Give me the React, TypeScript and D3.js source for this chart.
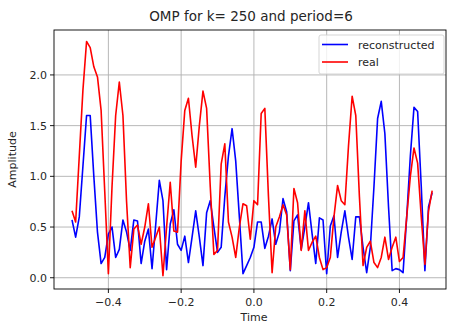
import React from "react";
import * as d3 from "d3";

const times: number[] = Array.from({ length: 100 }, (_, i) => +(-0.5 + i * 0.01).toFixed(2));

const reconstructed: number[] = [
  0.57, 0.4, 0.6, 1.1, 1.6, 1.6, 1.0, 0.45, 0.14, 0.2,
  0.43, 0.5, 0.2, 0.28, 0.57, 0.45, 0.27, 0.57, 0.56, 0.14,
  0.36, 0.48, 0.09, 0.52, 0.96, 0.76, 0.08, 0.53, 0.67, 0.33,
  0.27, 0.41, 0.15, 0.4, 0.66, 0.4, 0.12, 0.64, 0.76, 0.5,
  0.25, 0.3, 0.8, 1.2, 1.47, 1.15, 0.6, 0.04, 0.12, 0.2,
  0.3, 0.55, 0.55, 0.29, 0.41, 0.58, 0.33, 0.45, 0.78, 0.65,
  0.07, 0.56, 0.62, 0.28, 0.5, 0.74, 0.43, 0.14, 0.59, 0.57,
  0.04, 0.51, 0.61, 0.2, 0.45, 0.66, 0.4, 0.18, 0.6, 0.6,
  0.3, 0.05, 0.3, 0.9, 1.57, 1.74, 1.42, 0.7, 0.07, 0.09,
  0.08, 0.05, 0.6, 1.2, 1.68, 1.64, 0.9, 0.07, 0.7, 0.84,
];

const real: number[] = [
  0.66, 0.55, 1.2, 1.85, 2.33, 2.27, 2.08, 1.98, 1.65, 0.85,
  0.04, 0.9, 1.6, 1.93, 1.6, 0.75, 0.1, 0.48, 0.52, 0.33,
  0.5, 0.73, 0.3, 0.4, 0.5, 0.02, 0.5, 0.94, 0.46, 0.45,
  1.15, 1.65, 1.77, 1.4, 1.09, 1.5, 1.84, 1.67, 0.9, 0.23,
  0.27, 1.12, 1.32, 0.55, 0.4, 0.2, 0.5, 0.73, 0.71, 0.38,
  0.76, 0.72, 1.62, 1.67, 0.8, 0.05, 0.5, 0.6, 0.72, 0.62,
  0.08, 0.88, 0.74, 0.27, 0.66, 0.27, 0.35, 0.41, 0.2, 0.08,
  0.1, 0.2, 0.6, 0.91, 0.76, 0.72, 1.3, 1.79, 1.6, 0.8,
  0.12, 0.3, 0.36, 0.15, 0.1, 0.2, 0.4, 0.18, 0.3, 0.4,
  0.16, 0.2, 0.6, 1.0, 1.28, 1.13, 0.6, 0.13, 0.66, 0.86,
];

const xTicks: number[] = [-0.4, -0.2, 0.0, 0.2, 0.4];
const yTicks: number[] = [0.0, 0.5, 1.0, 1.5, 2.0];

const W = 449;
const H = 326;
const left = 54;
const right = 446;
const top = 30;
const bottom = 289;

export default function App() {
  const x = d3.scaleLinear().domain([-0.5495, 0.5280]).range([left, right]);
  const y = d3.scaleLinear().domain([-0.111, 2.443]).range([bottom, top]);
  const line = d3
    .line<number>()
    .x((_, i) => x(times[i]))
    .y((d) => y(d));
  const font = "DejaVu Sans, sans-serif";
  const grid = "#b0b0b0";
  const txt = "#262626";
  return (
    <svg
      width={W}
      height={H}
      style={{ position: "absolute", left: 0, top: 0, background: "#fff" }}
      fontFamily={font}
    >
      <rect x={0} y={0} width={W} height={H} fill="#fff" />
      {xTicks.map((t) => (
        <line key={"gx" + t} x1={x(t)} x2={x(t)} y1={top} y2={bottom} stroke={grid} strokeWidth={0.9} />
      ))}
      {yTicks.map((t) => (
        <line key={"gy" + t} x1={left} x2={right} y1={y(t)} y2={y(t)} stroke={grid} strokeWidth={0.9} />
      ))}
      <path d={line(reconstructed) || ""} fill="none" stroke="#0000ff" strokeWidth={1.6} strokeLinejoin="round" />
      <path d={line(real) || ""} fill="none" stroke="#ff0000" strokeWidth={1.6} strokeLinejoin="round" />
      <rect x={left} y={top} width={right - left} height={bottom - top} fill="none" stroke="#000" strokeWidth={0.9} />
      {xTicks.map((t) => (
        <g key={"tx" + t}>
          <line x1={x(t)} x2={x(t)} y1={bottom} y2={bottom + 4} stroke="#000" strokeWidth={0.9} />
          <text x={x(t)} y={bottom + 17} textAnchor="middle" fontSize={11} fill={txt}>
            {t === 0 ? "0.0" : d3.format(".1f")(t).replace("-", "\u2212")}
          </text>
        </g>
      ))}
      {yTicks.map((t) => (
        <g key={"ty" + t}>
          <line x1={left - 4} x2={left} y1={y(t)} y2={y(t)} stroke="#000" strokeWidth={0.9} />
          <text x={left - 7} y={y(t) + 4} textAnchor="end" fontSize={11} fill={txt}>
            {d3.format(".1f")(t)}
          </text>
        </g>
      ))}
      <text x={254} y={321} textAnchor="middle" fontSize={11} fill={txt}>Time</text>
      <text transform={`translate(16,${(top + bottom) / 2}) rotate(-90)`} textAnchor="middle" fontSize={11} fill={txt}>
        Amplitude
      </text>
      <text x={251} y={20.5} textAnchor="middle" fontSize={13.5} fill={txt}>
        OMP for k= 250 and period=6
      </text>
      <g>
        <rect x={319} y={35} width={125} height={39} rx={2} fill="#fff" fillOpacity={0.8} stroke="#d0d0d0" strokeWidth={0.9} />
        <line x1={322} x2={348} y1={44.5} y2={44.5} stroke="#0000ff" strokeWidth={1.6} />
        <text x={358} y={48.5} fontSize={11} fill={txt}>reconstructed</text>
        <line x1={322} x2={348} y1={62} y2={62} stroke="#ff0000" strokeWidth={1.6} />
        <text x={358} y={66} fontSize={11} fill={txt}>real</text>
      </g>
    </svg>
  );
}
